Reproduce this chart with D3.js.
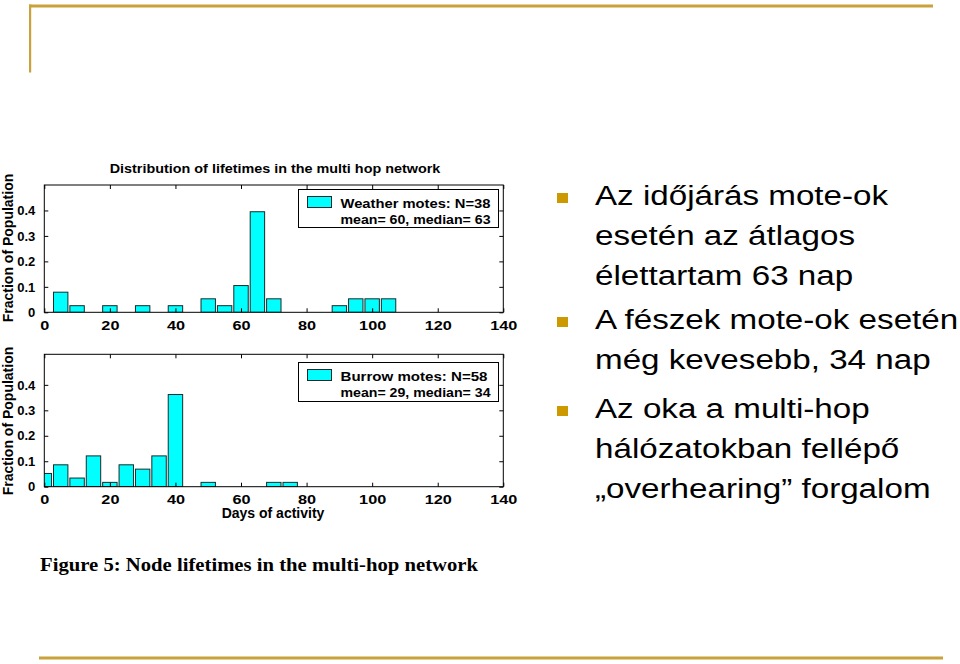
<!DOCTYPE html>
<html>
<head>
<meta charset="utf-8">
<script src="https://cdn.jsdelivr.net/npm/d3@7/dist/d3.min.js"></script>
<style>
  html, body { margin: 0; padding: 0; background: #fff; }
  svg { display: block; }
</style>
</head>
<body>
<svg id="slide" width="960" height="664"></svg>
<script>
// ---------------- DATA ----------------
const xTicks = [0, 20, 40, 60, 80, 100, 120, 140];
const yTicks = [0, 0.1, 0.2, 0.3, 0.4];

const weatherBins = [5, 10, 20, 30, 40, 50, 55, 60, 65, 70, 90, 95, 100, 105];
const weatherFrac = [0.079, 0.026, 0.026, 0.026, 0.026, 0.053, 0.026, 0.105, 0.395, 0.053, 0.026, 0.053, 0.053, 0.053];

const burrowBins = [0, 5, 10, 15, 20, 25, 30, 35, 40, 50, 70, 75];
const burrowFrac = [0.052, 0.086, 0.034, 0.121, 0.017, 0.086, 0.069, 0.121, 0.362, 0.017, 0.017, 0.017];

const chartTitle = "Distribution of lifetimes in the multi hop network";
const yLabel = "Fraction of Population";
const xLabel = "Days of activity";
const weatherLegend = ["Weather motes: N=38", "mean= 60, median= 63"];
const burrowLegend = ["Burrow motes: N=58", "mean= 29, median= 34"];
const caption = "Figure 5: Node lifetimes in the multi-hop network";

const bullets = [
  ["Az időjárás mote-ok", "esetén az átlagos", "élettartam 63 nap"],
  ["A fészek mote-ok esetén", "még kevesebb, 34 nap"],
  ["Az oka a multi-hop", "hálózatokban fellépő", "\u201Eoverhearing\u201D forgalom"]
];

// ---------------- DRAW ----------------
const svg = d3.select("#slide");
const gold = "#C9A23C";
const sans = "'Liberation Sans', Arial, Helvetica, sans-serif";
const SX = 1.15;   // the slide picture is slightly stretched horizontally

function stretchedText(parent, x, y, sx, str) {
  return parent.append("text")
    .attr("transform", `translate(${x},${y}) scale(${sx},1)`)
    .text(str);
}

// slide decorations
svg.append("rect").attr("x", 29).attr("y", 4.5).attr("width", 904).attr("height", 3).attr("fill", gold);
svg.append("rect").attr("x", 29).attr("y", 4.5).attr("width", 2.2).attr("height", 68).attr("fill", gold);
svg.append("rect").attr("x", 39).attr("y", 656.5).attr("width", 904).attr("height", 3).attr("fill", gold);

const binWidth = 4.4;

function histogram(cfg) {
  const x = d3.scaleLinear().domain([0, 140]).range([cfg.left, cfg.right]);
  const y = d3.scaleLinear().domain([0, cfg.ymax]).range([cfg.bottom, cfg.top]);
  const g = svg.append("g");
  const clipId = "clip" + cfg.id;
  svg.append("clipPath").attr("id", clipId)
    .append("rect").attr("x", cfg.left).attr("y", cfg.top)
    .attr("width", cfg.right - cfg.left).attr("height", cfg.bottom - cfg.top);

  // bars
  g.append("g").attr("clip-path", `url(#${clipId})`)
    .selectAll("rect").data(cfg.bins.map((b, i) => ({ b, v: cfg.vals[i] })))
    .enter().append("rect")
    .attr("x", d => x(d.b - binWidth / 2))
    .attr("width", d => x(d.b + binWidth / 2) - x(d.b - binWidth / 2))
    .attr("y", d => y(d.v))
    .attr("height", d => y(0) - y(d.v))
    .attr("fill", "#00FFFF")
    .attr("stroke", "#1b2b2b")
    .attr("stroke-width", 1);

  // box
  g.append("rect").attr("x", cfg.left).attr("y", cfg.top)
    .attr("width", cfg.right - cfg.left).attr("height", cfg.bottom - cfg.top)
    .attr("fill", "none").attr("stroke", "#000").attr("stroke-width", 1);

  const tickLen = 4;
  const xb = d3.axisBottom(x).tickValues(xTicks).tickSize(-tickLen).tickPadding(8).tickFormat(d3.format("d"));
  const xt = d3.axisTop(x).tickValues(xTicks).tickSize(-tickLen).tickFormat("");
  const yl = d3.axisLeft(y).tickValues(yTicks).tickSize(-tickLen).tickPadding(9).tickFormat(d => d === 0 ? "0" : d3.format(".1f")(d));
  const yr = d3.axisRight(y).tickValues(yTicks).tickSize(-tickLen).tickFormat("");

  const gxb = g.append("g").attr("transform", `translate(0,${cfg.bottom})`).call(xb);
  const gxt = g.append("g").attr("transform", `translate(0,${cfg.top})`).call(xt);
  const gyl = g.append("g").attr("transform", `translate(${cfg.left},0)`).call(yl);
  const gyr = g.append("g").attr("transform", `translate(${cfg.right},0)`).call(yr);
  [gxb, gxt, gyl, gyr].forEach(a => {
    a.select(".domain").remove();
    a.selectAll("line").attr("stroke", "#000");
    a.selectAll("text").attr("font-family", sans).attr("font-weight", "bold")
      .attr("font-size", 13).attr("fill", "#000");
  });
  // x tick labels are a little wider in the picture; stretch about their centres
  gxb.selectAll(".tick text").attr("transform", "scale(1.25,1)");

  svg.append("text")
    .attr("transform", `translate(13,${cfg.ylabelY}) rotate(-90)`)
    .attr("text-anchor", "middle")
    .attr("font-family", sans).attr("font-weight", "bold").attr("font-size", 14)
    .text(yLabel);

  const L = cfg.legend;
  svg.append("rect").attr("x", L.x).attr("y", L.y).attr("width", L.w).attr("height", L.h)
    .attr("fill", "#fff").attr("stroke", "#000").attr("stroke-width", 1);
  svg.append("rect").attr("x", L.x + 9).attr("y", L.y + 7).attr("width", 24).attr("height", 11)
    .attr("fill", "#00FFFF").attr("stroke", "#1b2b2b").attr("stroke-width", 1);
  cfg.legendText.forEach((t, i) => {
    svg.append("text").attr("x", L.x + 42).attr("y", L.y + 18 + i * 16.5)
      .attr("font-family", sans).attr("font-weight", "bold").attr("font-size", 13)
      .attr("textLength", cfg.legendLen[i]).attr("lengthAdjust", "spacingAndGlyphs")
      .text(t);
  });
  return { x, y };
}

const chartA = histogram({
  id: "a", left: 44.3, right: 503.3, top: 185, bottom: 312.3, ymax: 0.5,
  bins: weatherBins, vals: weatherFrac, ylabelY: 248,
  legend: { x: 298.5, y: 189.5, w: 200, h: 38 }, legendText: weatherLegend, legendLen: [150, 150]
});
const chartB = histogram({
  id: "b", left: 44.3, right: 503.3, top: 354.3, bottom: 486.7, ymax: 0.52,
  bins: burrowBins, vals: burrowFrac, ylabelY: 421,
  legend: { x: 298.5, y: 362.5, w: 200, h: 39 }, legendText: burrowLegend, legendLen: [147, 150]
});

stretchedText(svg, 275, 173, SX, chartTitle).attr("text-anchor", "middle")
  .attr("font-family", sans).attr("font-weight", "bold").attr("font-size", 12.5);
svg.append("text").attr("x", 273).attr("y", 518).attr("text-anchor", "middle")
  .attr("font-family", sans).attr("font-weight", "bold").attr("font-size", 14)
  .text(xLabel);

svg.append("text").attr("x", 40).attr("y", 571)
  .attr("font-family", "'Liberation Serif', 'Times New Roman', serif")
  .attr("font-weight", "bold").attr("font-size", 19)
  .attr("textLength", 438).attr("lengthAdjust", "spacingAndGlyphs")
  .text(caption);

const bulletColor = "#CC9A00";
const paraStarts = [205, 329, 418];
const lineH = 40;
bullets.forEach((lines, p) => {
  const y0 = paraStarts[p];
  svg.append("rect").attr("x", 557).attr("y", y0 - 12).attr("width", 11).attr("height", 10).attr("fill", bulletColor);
  lines.forEach((t, i) => {
    stretchedText(svg, 595, y0 + i * lineH, 1.185, t)
      .attr("font-family", sans).attr("font-size", 28).attr("fill", "#000");
  });
});
</script>
</body>
</html>
